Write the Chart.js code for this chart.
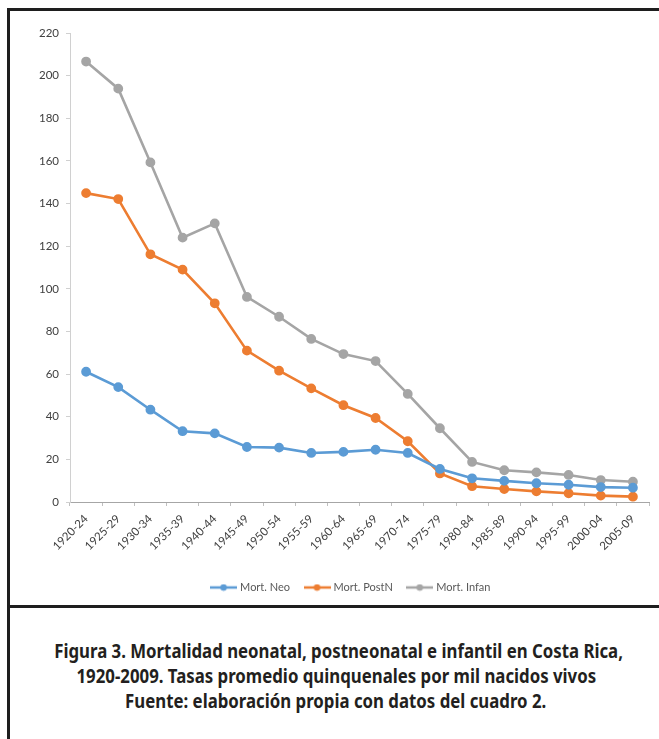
<!DOCTYPE html>
<html>
<head>
<meta charset="utf-8">
<script src="https://cdn.jsdelivr.net/npm/chart.js@4/dist/chart.umd.min.js"></script>
<style>
  html, body { margin: 0; padding: 0; background: #fff; }
  #wrap { position: relative; width: 659px; height: 739px; overflow: hidden; background: #fff; }
  .bl { position: absolute; background: #1e1e1e; }
  #cv { position: absolute; left: 10px; top: 11px; }
  #cap { position: absolute; left: 0px; width: 672px; top: 638px; text-align: center;
         font-family: "Noto Sans", "Open Sans", sans-serif;
         font-weight: bold; font-size: 20px; line-height: 25px; color: #231f20; }
  #cap div { white-space: nowrap; }
  #cap span { display: inline-block; transform-origin: center center; }
</style>
</head>
<body>
<div id="wrap">
  <div class="bl" style="left:7px; top:8px; width:652px; height:3px;"></div>
  <div class="bl" style="left:7px; top:8px; width:3px; height:731px;"></div>
  <div class="bl" style="left:7px; top:605px; width:652px; height:3px;"></div>
  <canvas id="cv" width="648" height="593"></canvas>
  <div id="cap">
    <div><span>Figura 3. Mortalidad neonatal, postneonatal e infantil en Costa Rica,</span></div>
    <div><span>1920-2009. Tasas promedio quinquenales por mil nacidos vivos</span></div>
    <div><span>Fuente: elaboración propia con datos del cuadro 2.</span></div>
  </div>
</div>
<script>
const categories = ["1920-24","1925-29","1930-34","1935-39","1940-44","1945-49","1950-54","1955-59","1960-64","1965-69","1970-74","1975-79","1980-84","1985-89","1990-94","1995-99","2000-04","2005-09"];
const mortNeo   = [61.1, 53.9, 43.3, 33.2, 32.2, 25.8, 25.5, 23.0, 23.5, 24.5, 23.0, 15.5, 11.1, 9.9, 8.8, 8.1, 7.0, 6.7];
const mortPostN = [144.9, 142.1, 116.2, 109.0, 93.2, 71.0, 61.6, 53.3, 45.4, 39.4, 28.5, 13.4, 7.4, 6.1, 5.0, 4.1, 3.0, 2.5];
const mortInfan = [206.6, 193.9, 159.3, 124.0, 130.7, 96.2, 86.9, 76.5, 69.4, 66.1, 50.7, 34.6, 18.8, 14.9, 13.9, 12.7, 10.3, 9.5];
const seriesNames = ["Mort. Neo", "Mort. PostN", "Mort. Infan"];
const seriesColors = ["#5B9BD5", "#ED7D31", "#A5A5A5"];
const yTicks = { min: 0, max: 220, step: 20 };

// condense caption lines (the original uses a bold condensed face)
const capScale = 0.84;
document.querySelectorAll('#cap span').forEach(s => { s.style.transform = 'scaleX(' + capScale + ')'; });

function legendIcon(color) {
  const c = document.createElement('canvas');
  c.width = 27; c.height = 8;
  const g = c.getContext('2d');
  g.strokeStyle = color; g.lineWidth = 2.5;
  g.beginPath(); g.moveTo(0, 4); g.lineTo(27, 4); g.stroke();
  g.fillStyle = color;
  g.beginPath(); g.arc(13.5, 4, 3.3, 0, Math.PI * 2); g.fill();
  return c;
}

const font = "Lato, 'Open Sans', sans-serif";
const allSeries = [mortNeo, mortPostN, mortInfan];
const datasets = allSeries.map((d, i) => ({
  label: seriesNames[i],
  data: d,
  borderColor: seriesColors[i],
  backgroundColor: seriesColors[i],
  pointBackgroundColor: seriesColors[i],
  pointBorderColor: seriesColors[i],
  borderWidth: 2.6,
  pointRadius: 3.6,
  pointHoverRadius: 3.6,
  tension: 0,
  pointStyle: 'circle',
  _icon: legendIcon(seriesColors[i])
}));

// shift the legend so that it is centred like the original (centred under the plot)
const legendShift = {
  id: 'legendShift',
  afterLayout(chart) {
    const lg = chart.legend;
    if (lg) { lg.left += 22; lg.right += 22; }
  }
};

new Chart(document.getElementById('cv'), {
  type: 'line',
  data: { labels: categories, datasets: datasets },
  plugins: [legendShift],
  options: {
    responsive: false,
    animation: false,
    events: [],
    layout: { padding: { left: 0, right: 9, top: 22, bottom: 1 } },
    plugins: {
      tooltip: { enabled: false },
      legend: {
        position: 'bottom',
        labels: {
          usePointStyle: true,
          pointStyleWidth: 22,
          padding: 16,
          color: '#595959',
          font: { family: font, size: 11 },
          generateLabels(chart) {
            return chart.data.datasets.map((ds, i) => ({
              text: ds.label,
              fillStyle: ds.borderColor,
              strokeStyle: ds.borderColor,
              lineWidth: 0,
              pointStyle: ds._icon,
              fontColor: '#595959',
              datasetIndex: i,
              hidden: false
            }));
          }
        }
      }
    },
    scales: {
      x: {
        offset: true,
        grid: { offset: true, drawOnChartArea: false, drawTicks: true, tickLength: 4, color: '#bfbfbf' },
        border: { display: true, color: '#a6a6a6', width: 1 },
        ticks: { minRotation: 45, maxRotation: 45, autoSkip: false, color: '#404040', font: { family: font, size: 11.5 }, padding: 6 },
        afterFit(s) { s.height = 64; }
      },
      y: {
        min: yTicks.min, max: yTicks.max,
        grid: { drawOnChartArea: false, drawTicks: true, tickLength: 4, color: '#d0d0d0' },
        border: { display: true, color: '#d0d0d0', width: 1 },
        ticks: { stepSize: yTicks.step, color: '#404040', font: { family: font, size: 11.5 }, padding: 7 },
        afterFit(s) { s.width = 60; }
      }
    }
  }
});
</script>
</body>
</html>
